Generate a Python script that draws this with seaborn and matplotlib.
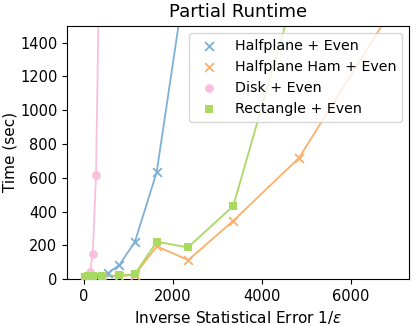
import matplotlib
matplotlib.use("Agg")
import matplotlib.pyplot as plt
import seaborn as sns
import pandas as pd

# values
half_x = [100, 200, 300, 400, 550, 800, 1150, 1640, 2300]
half_y = [5, 8, 12, 20, 35, 84, 221, 633, 1800]

ham_x = [30, 100, 200, 400, 800, 1150, 1640, 2350, 3360, 4840, 6960]
ham_y = [10, 12, 14, 15, 18, 25, 195, 113, 345, 718, 1610]

disk_x = [100, 142, 202, 276, 350]
disk_y = [10, 45, 149, 614, 1870]

rect_x = [30, 100, 200, 400, 800, 1150, 1640, 2340, 3360, 4800]
rect_y = [15, 16, 17, 18, 22, 30, 222, 188, 432, 1750]

series = [
    ("Halfplane + Even", half_x, half_y, "#7eb0d6", "x"),
    ("Halfplane Ham + Even", ham_x, ham_y, "#fdb06a", "x"),
    ("Disk + Even", disk_x, disk_y, "#f9bfdd", "o"),
    ("Rectangle + Even", rect_x, rect_y, "#a8da62", "s"),
]

plt.rcParams["font.size"] = 10

fig, ax = plt.subplots(figsize=(4.19, 3.25), dpi=100)

for name, xs, ys, color, marker in series:
    df = pd.DataFrame({"x": xs, "y": ys})
    sns.lineplot(data=df, x="x", y="y", color=color, sort=False, lw=1.3, ax=ax, legend=False)
    sns.scatterplot(data=df, x="x", y="y", color=color, marker=marker, s=40,
                    linewidth=1.3 if marker == "x" else 0, label=name, ax=ax, zorder=3)

ax.set_xlim(-375, 7310)
ax.set_ylim(0, 1500)
ax.set_xticks([0, 2000, 4000, 6000])
ax.set_yticks(range(0, 1500, 200))
ax.tick_params(labelsize=10.5)
ax.set_title("Partial Runtime", fontsize=13)
ax.set_xlabel("Inverse Statistical Error 1/$\\varepsilon$", fontsize=11)
ax.set_ylabel("Time (sec)", fontsize=11, labelpad=2)
ax.legend(loc="upper right", fontsize=10.3)

fig.subplots_adjust(left=0.16, right=0.976, top=0.921, bottom=0.141)
fig.savefig("out.png", dpi=100)
